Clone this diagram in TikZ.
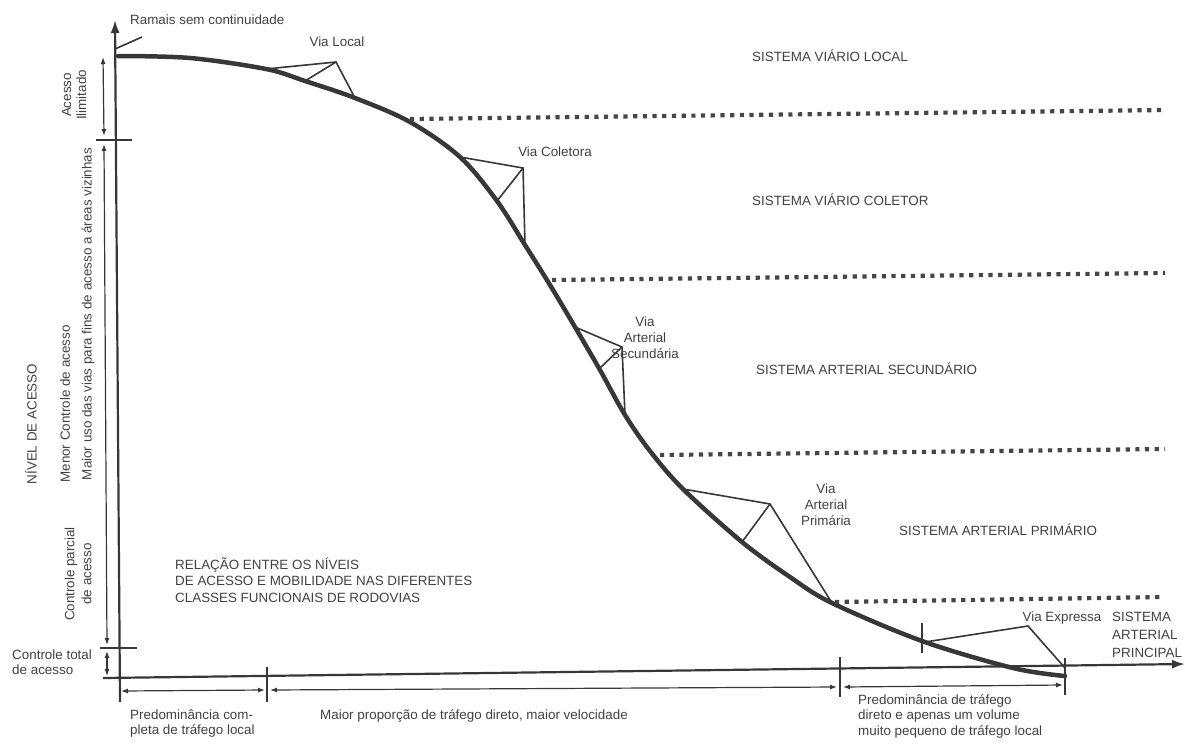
\documentclass[tikz,border=0pt]{standalone}
\usepackage{fontspec}
\setmainfont{Liberation Sans}
\usetikzlibrary{arrows.meta}
\definecolor{txtgray}{RGB}{65,65,65}
\definecolor{lngray}{RGB}{55,55,55}
\definecolor{dotgray}{RGB}{70,70,70}
\begin{document}
\begin{tikzpicture}[x=1pt,y=-1pt,
  lbl/.style={font=\fontsize{13.4}{16}\selectfont, text=txtgray, inner sep=0pt},
  axisline/.style={draw=lngray, line width=2.2pt},
  curveline/.style={draw=lngray, line width=4.5pt, line cap=round},
  callout/.style={draw=lngray, line width=1.6pt},
  dimline/.style={draw=lngray, line width=1.2pt, {Latex[length=7pt,width=5pt]}-{Latex[length=7pt,width=5pt]}},
  tickline/.style={draw=lngray, line width=1.6pt},
  dotline/.style={draw=dotgray, line width=4.2pt, dash pattern=on 4.2pt off 5.5pt}]
\useasboundingbox (0,0) rectangle (1185,744);

% axes
\coordinate (ybot) at (120,702);
\coordinate (ytop) at (115,20);
\coordinate (xleft) at (103,678);
\coordinate (xend) at (1185,664);
\draw[axisline,-{Latex[length=13pt,width=9pt]}] (ybot) -- (ytop);
\draw[axisline,-{Latex[length=13pt,width=9pt]}] (xleft) -- (xend);

% ramais
\coordinate (r1) at (115,49);
\coordinate (r2) at (142,37);
\draw[callout] (r1) -- (r2);
\node[lbl, anchor=west] (ramais) at (130,20) {Ramais sem continuidade};

% curve
\draw[curveline] plot[smooth, tension=0.55] coordinates {
 (118,56) (190,58) (266,69) (305,81) (355,98) (410,122) (460,157) (497,201)
 (525,245) (550,285) (575,327) (600,370) (625,415) (650,451) (683,489)
 (742,542) (790,577) (832,603) (922,641) (1013,668) (1065,676)};

% dotted boundaries
\coordinate (d1a) at (410,119); \coordinate (d1b) at (1165,110);
\coordinate (d2a) at (552,280); \coordinate (d2b) at (1165,273);
\coordinate (d3a) at (660,455); \coordinate (d3b) at (1165,449);
\coordinate (d4a) at (835,602); \coordinate (d4b) at (1163,597);
\draw[dotline] (d1a) -- (d1b);
\draw[dotline] (d2a) -- (d2b);
\draw[dotline] (d3a) -- (d3b);
\draw[dotline] (d4a) -- (d4b);

% Via Local callout
\coordinate (la) at (336,62); \coordinate (l1) at (266,69);
\coordinate (l2) at (355,98); \coordinate (l3) at (305,81);
\draw[callout] (l1) -- (la) -- (l2);
\draw[callout] (la) -- (l3);
\node[lbl] (vialocal) at (337,42) {Via Local};

% Via Coletora callout
\coordinate (ca) at (523,168); \coordinate (c1) at (460,157);
\coordinate (c2) at (525,245); \coordinate (c3) at (497,201);
\draw[callout] (c1) -- (ca) -- (c2);
\draw[callout] (ca) -- (c3);
\node[lbl] (viacol) at (555,152) {Via Coletora};

% Via Arterial Secundaria callout
\coordinate (sa) at (622,347); \coordinate (s1) at (575,327);
\coordinate (s2) at (625,415); \coordinate (s3) at (600,368);
\draw[callout] (s1) -- (sa) -- (s2);
\draw[callout] (sa) -- (s3);
\node[lbl, align=center] (viasec) at (645,338) {Via\\Arterial\\Secundária};

% Via Arterial Primaria callout
\coordinate (pa) at (770,504); \coordinate (p1) at (683,489);
\coordinate (p2) at (832,603); \coordinate (p3) at (742,542);
\draw[callout] (p1) -- (pa) -- (p2);
\draw[callout] (pa) -- (p3);
\node[lbl, align=center] (viaprim) at (826,505) {Via\\Arterial\\Primária};

% Via Expressa callout
\coordinate (ea) at (1028,626); \coordinate (e1) at (925,642);
\coordinate (e2) at (1065,668);
\coordinate (et1) at (922,623); \coordinate (et2) at (922,653);
\draw[callout] (e1) -- (ea) -- (e2);
\draw[callout] (et1) -- (et2);
\node[lbl] (viaexp) at (1062,618) {Via Expressa};

% system labels
\node[lbl, anchor=west] (sislocal) at (752,56) {SISTEMA VIÁRIO LOCAL};
\node[lbl, anchor=west] (siscol) at (752,200) {SISTEMA VIÁRIO COLETOR};
\node[lbl, anchor=west] (sissec) at (756,369) {SISTEMA ARTERIAL SECUNDÁRIO};
\node[lbl, anchor=west] (sisprim) at (899,530) {SISTEMA ARTERIAL PRIMÁRIO};
\node[lbl, anchor=west, align=left, font=\fontsize{13.4}{18}\selectfont] (sisprinc) at (1112,635) {SISTEMA\\ARTERIAL\\PRINCIPAL};

\node[lbl, anchor=west, align=left, font=\fontsize{13.4}{16.5}\selectfont] (relacao) at (175,580)
  {RELAÇÃO ENTRE OS NÍVEIS\\DE ACESSO E MOBILIDADE NAS DIFERENTES\\CLASSES FUNCIONAIS DE RODOVIAS};

% left dimension marks
\coordinate (ta1) at (96,140); \coordinate (ta2) at (132,140);
\coordinate (tb1) at (100,648); \coordinate (tb2) at (137,648);
\draw[tickline] (ta1) -- (ta2);
\draw[tickline] (tb1) -- (tb2);
\coordinate (va1) at (103,57); \coordinate (va2) at (104,136);
\coordinate (vb1) at (104,144); \coordinate (vb2) at (107,645);
\coordinate (vc1) at (107,651); \coordinate (vc2) at (107,676);
\draw[dimline] (va1) -- (va2);
\draw[dimline] (vb1) -- (vb2);
\draw[dimline] (vc1) -- (vc2);

% left labels
\node[lbl, rotate=90] (nivel) at (31,424) {NÍVEL DE ACESSO};
\node[lbl, rotate=90] (menor) at (65,404) {Menor Controle de acesso};
\node[lbl, rotate=90] (maioruso) at (88,314) {Maior uso das vias para fins de acesso a áreas vizinhas};
\node[lbl, rotate=90, align=center, font=\fontsize{13.4}{15}\selectfont] (ilim) at (74,95) {Acesso\\Ilimitado};
\node[lbl, rotate=90, align=center, font=\fontsize{13.4}{17}\selectfont] (parcial) at (78,574) {Controle parcial\\de acesso};
\node[lbl, anchor=west, align=left, font=\fontsize{13.4}{15}\selectfont] (total) at (12,662) {Controle total\\de acesso};

% bottom ticks
\coordinate (bt1a) at (267,667); \coordinate (bt1b) at (267,702);
\coordinate (bt2a) at (840,657); \coordinate (bt2b) at (840,697);
\coordinate (bt3a) at (1065,658); \coordinate (bt3b) at (1065,695);
\draw[tickline] (bt1a) -- (bt1b);
\draw[tickline] (bt2a) -- (bt2b);
\draw[tickline] (bt3a) -- (bt3b);

% bottom dimension arrows
\coordinate (h1a) at (121,691); \coordinate (h1b) at (265,690);
\coordinate (h2a) at (270,690); \coordinate (h2b) at (837,687);
\coordinate (h3a) at (843,687); \coordinate (h3b) at (1063,685);
\draw[dimline] (h1a) -- (h1b);
\draw[dimline] (h2a) -- (h2b);
\draw[dimline] (h3a) -- (h3b);

% bottom labels
\node[lbl, anchor=west, align=left, font=\fontsize{13.4}{15}\selectfont] (pred1) at (130,724) {Predominância com-\\pleta de tráfego local};
\node[lbl, anchor=west] (maiorprop) at (320,716) {Maior proporção de tráfego direto, maior velocidade};
\node[lbl, anchor=west, align=left, font=\fontsize{13.4}{15.5}\selectfont] (pred3) at (858,716) {Predominância de tráfego\\direto e apenas um volume\\muito pequeno de tráfego local};
\end{tikzpicture}
\end{document}
